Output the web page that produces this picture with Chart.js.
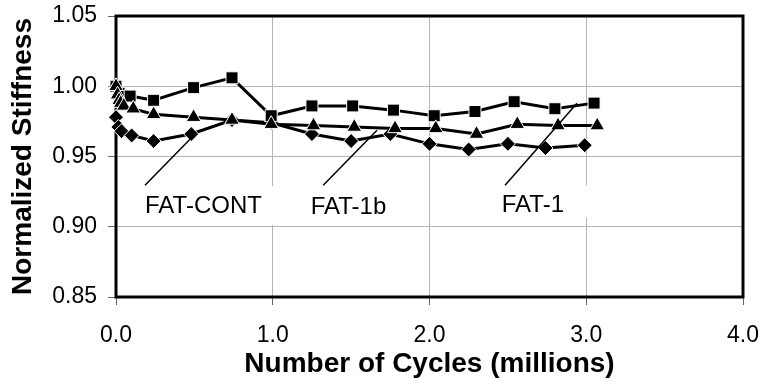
<!DOCTYPE html>
<html>
<head>
<meta charset="utf-8">
<script src="https://cdn.jsdelivr.net/npm/chart.js@4.4.1/dist/chart.umd.min.js"></script>
<style>
    html, body { margin: 0; padding: 0; background: #fff; }
    #wrap { width: 765px; height: 391px; }
</style>
</head>
<body>
<div id="wrap"><canvas id="stiffnessChart"></canvas></div>
<script>
// Cycles (millions) and normalized stiffness
const fat1Cycles = [0, 0.02, 0.09, 0.24, 0.495, 0.74, 0.99, 1.25, 1.51, 1.77, 2.03, 2.29, 2.54, 2.8, 3.05];
const fat1Stiffness = [1.000, 0.995, 0.993, 0.990, 0.999, 1.006, 0.979, 0.986, 0.986, 0.983, 0.979, 0.982, 0.989, 0.984, 0.988];

const fat1bCycles = [0, 0.01, 0.02, 0.03, 0.05, 0.11, 0.24, 0.495, 0.74, 0.99, 1.26, 1.52, 1.78, 2.04, 2.3, 2.56, 2.82, 3.07];
const fat1bStiffness = [1.000, 0.994, 0.990, 0.988, 0.986, 0.984, 0.980, 0.978, 0.976, 0.973, 0.972, 0.971, 0.970, 0.970, 0.966, 0.973, 0.972, 0.972];

const fatContCycles = [0, 0.015, 0.035, 0.1, 0.24, 0.48, 0.74, 0.99, 1.25, 1.5, 1.75, 2.0, 2.25, 2.5, 2.74, 2.99];
const fatContStiffness = [0.978, 0.971, 0.968, 0.965, 0.961, 0.966, 0.976, 0.974, 0.966, 0.961, 0.966, 0.959, 0.955, 0.959, 0.956, 0.958];

const xTickLabels = ['0.0', '1.0', '2.0', '3.0', '4.0'];
const yTickLabels = ['0.85', '0.90', '0.95', '1.00', '1.05'];

// Callout labels, placed in data units
const callouts = [
    { text: 'FAT-CONT', at: [0.185, 0.9098], from: [0.185, 0.9295], to: [0.472, 0.9623], box: [0.153, 0.9289, 1.021, 0.9012] },
    { text: 'FAT-1b', at: [1.242, 0.9094], from: [1.322, 0.9295], to: [1.665, 0.9687], box: [1.212, 0.9289, 1.786, 0.9033] },
    { text: 'FAT-1', at: [2.461, 0.9105], from: [2.482, 0.9295], to: [2.941, 0.9879], box: [2.431, 0.9295, 3.024, 0.9067] }
];

const FONT = '"Liberation Sans", Arial, sans-serif';

function toPoints(xs, ys) {
    return xs.map((x, i) => ({ x: x, y: ys[i] }));
}

function serie(label, xs, ys, style, radius) {
    return {
        label: label,
        data: toPoints(xs, ys),
        showLine: true,
        borderColor: '#000',
        borderWidth: 3,
        backgroundColor: '#000',
        pointStyle: style,
        pointRadius: radius,
        pointBackgroundColor: '#000',
        pointBorderColor: '#fff',
        pointBorderWidth: 1,
        clip: false
    };
}

// No extra room for the end labels: the plot area is fixed by the layout padding
function fixBox(size) {
    return scale => {
        if (scale.isHorizontal()) {
            scale.height = size;
        } else {
            scale.width = size;
        }
        scale.paddingLeft = 0;
        scale.paddingRight = 0;
        scale.paddingTop = 0;
        scale.paddingBottom = 0;
    };
}

// Frame, white text boxes, arrows and callout text
const calloutsPlugin = {
    id: 'callouts',
    beforeDatasetsDraw(chart) {
        const { ctx, chartArea: a, scales: { x, y } } = chart;
        ctx.save();
        ctx.fillStyle = '#fff';
        callouts.forEach(c => {
            const x0 = x.getPixelForValue(c.box[0]);
            const y0 = y.getPixelForValue(c.box[1]);
            const x1 = x.getPixelForValue(c.box[2]);
            const y1 = y.getPixelForValue(c.box[3]);
            ctx.fillRect(x0, y0, x1 - x0, y1 - y0);
        });
        ctx.strokeStyle = '#000';
        ctx.lineWidth = 3;
        ctx.strokeRect(a.left, a.top, a.right - a.left, a.bottom - a.top);
        ctx.restore();
    },
    afterDatasetsDraw(chart) {
        const { ctx, scales: { x, y } } = chart;
        ctx.save();
        ctx.strokeStyle = '#000';
        ctx.lineWidth = 1.5;
        ctx.fillStyle = '#000';
        ctx.font = '24px ' + FONT;
        ctx.textAlign = 'left';
        ctx.textBaseline = 'alphabetic';
        callouts.forEach(c => {
            ctx.beginPath();
            ctx.moveTo(x.getPixelForValue(c.from[0]), y.getPixelForValue(c.from[1]));
            ctx.lineTo(x.getPixelForValue(c.to[0]), y.getPixelForValue(c.to[1]));
            ctx.stroke();
            ctx.fillText(c.text, x.getPixelForValue(c.at[0]), y.getPixelForValue(c.at[1]));
        });
        ctx.restore();
    }
};

const ctx = document.getElementById('stiffnessChart').getContext('2d');

new Chart(ctx, {
    type: 'scatter',
    data: {
        datasets: [
            serie('FAT-1b', fat1bCycles, fat1bStiffness, 'triangle', 8.5),
            serie('FAT-1', fat1Cycles, fat1Stiffness, 'rect', 8.5),
            serie('FAT-CONT', fatContCycles, fatContStiffness, 'rectRot', 7.5)
        ]
    },
    options: {
        responsive: true,
        maintainAspectRatio: false,
        animation: false,
        layout: {
            padding: { left: 0, right: 22, top: 16, bottom: 0 }
        },
        plugins: {
            legend: { display: false },
            tooltip: { enabled: false }
        },
        scales: {
            x: {
                type: 'linear',
                min: 0,
                max: 4,
                afterFit: fixBox(94),
                border: { display: false },
                grid: {
                    color: '#b4b4b4',
                    lineWidth: 1,
                    tickColor: '#666',
                    tickLength: 8
                },
                ticks: {
                    stepSize: 1,
                    padding: 17,
                    color: '#000',
                    font: { family: FONT, size: 23 },
                    callback: (v, i) => xTickLabels[i]
                },
                title: {
                    display: true,
                    text: 'Number of Cycles (millions)',
                    color: '#000',
                    font: { family: FONT, size: 28, weight: 'bold' },
                    padding: { top: 0, bottom: 10 }
                }
            },
            y: {
                type: 'linear',
                min: 0.85,
                max: 1.05,
                afterFit: fixBox(116),
                border: { display: false },
                grid: {
                    color: '#b4b4b4',
                    lineWidth: 1,
                    tickColor: '#666',
                    tickLength: 8
                },
                ticks: {
                    stepSize: 0.05,
                    padding: 11,
                    color: '#000',
                    font: { family: FONT, size: 23 },
                    callback: (v, i) => yTickLabels[i]
                },
                title: {
                    display: true,
                    text: 'Normalized Stiffness',
                    color: '#000',
                    font: { family: FONT, size: 28, weight: 'bold' },
                    padding: { top: 6, bottom: 0 }
                }
            }
        }
    },
    plugins: [calloutsPlugin]
});
</script>
</body>
</html>
